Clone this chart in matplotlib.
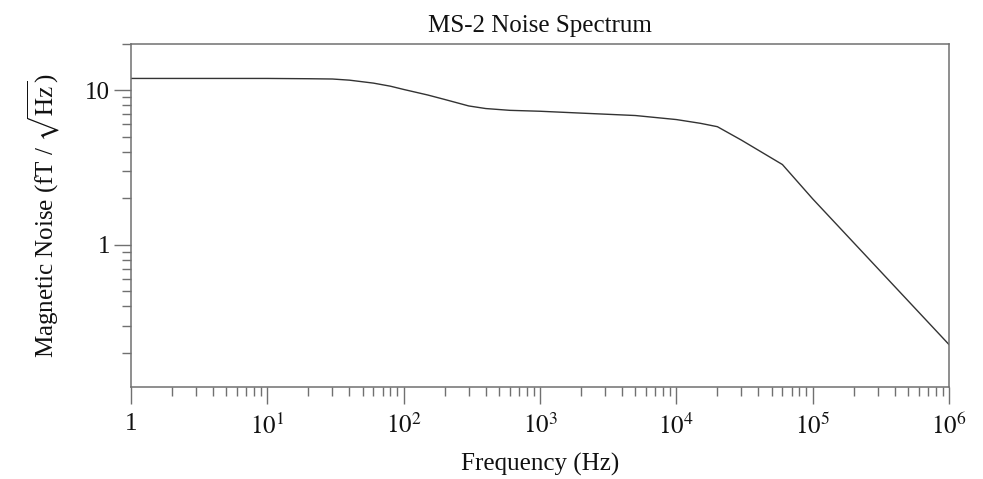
import matplotlib
matplotlib.use("Agg")
import matplotlib.pyplot as plt
from matplotlib.ticker import FixedLocator, FixedFormatter, LogLocator, NullFormatter

freq_hz = [1, 10, 20, 30, 40, 60, 80, 100, 150, 200, 300, 400, 600, 1000, 2000, 5000,
           10000, 15000, 20000, 30000, 60000, 100000, 1000000]
noise_ft = [11.9, 11.9, 11.85, 11.8, 11.6, 11.1, 10.6, 10.1, 9.3, 8.7, 7.9, 7.6, 7.4, 7.3, 7.1, 6.85,
            6.45, 6.1, 5.8, 4.75, 3.3, 1.98, 0.226]

x_ticks = [1, 10, 100, 1000, 10000, 100000, 1000000]
x_tick_labels = ['1', '$10^{1}$', '$10^{2}$', '$10^{3}$', '$10^{4}$', '$10^{5}$', '$10^{6}$']
y_ticks = [1, 10]
y_tick_labels = ['1', '10']

plt.rcParams['font.family'] = ['Liberation Serif', 'DejaVu Serif']
plt.rcParams['mathtext.fontset'] = 'stix'

fig = plt.figure(figsize=(9.83, 4.79), dpi=100)
ax = fig.add_axes([0.1333, 0.192, 0.9654 - 0.1333, 0.909 - 0.192])

ax.plot(freq_hz, noise_ft, color='#333333', lw=1.0)
ax.set_xscale('log')
ax.set_yscale('log')
ax.set_xlim(1, 1e6)
ax.set_ylim(0.12, 20)

ax.xaxis.set_major_locator(FixedLocator(x_ticks))
ax.xaxis.set_major_formatter(FixedFormatter(x_tick_labels))
ax.xaxis.set_minor_locator(LogLocator(base=10, subs=range(2, 10), numticks=20))
ax.xaxis.set_minor_formatter(NullFormatter())
ax.yaxis.set_major_locator(FixedLocator(y_ticks))
ax.yaxis.set_major_formatter(FixedFormatter(y_tick_labels))
ax.yaxis.set_minor_locator(LogLocator(base=10, subs=range(2, 10), numticks=20))
ax.yaxis.set_minor_formatter(NullFormatter())

spine_col = '#707070'
for s in ax.spines.values():
    s.set_color(spine_col)
    s.set_linewidth(1.1)

ax.tick_params(which='major', direction='out', length=12, width=1.0, color=spine_col,
               labelsize=18, pad=3, labelcolor='#111111')
ax.tick_params(axis='x', which='major', pad=7)
ax.tick_params(which='minor', direction='out', length=6.5, width=1.0, color=spine_col)
ax.tick_params(axis='x', which='both', top=False)
ax.tick_params(axis='y', which='both', right=False)

ax.set_title('MS-2 Noise Spectrum', fontsize=18, pad=8, color='#111111')
ax.set_xlabel('Frequency (Hz)', fontsize=18, labelpad=10, color='#111111')
ax.set_ylabel(r'Magnetic Noise (fT / $\sqrt{\mathrm{Hz}}$)', fontsize=18, labelpad=17, color='#111111')

fig.savefig('out.png', dpi=100)
